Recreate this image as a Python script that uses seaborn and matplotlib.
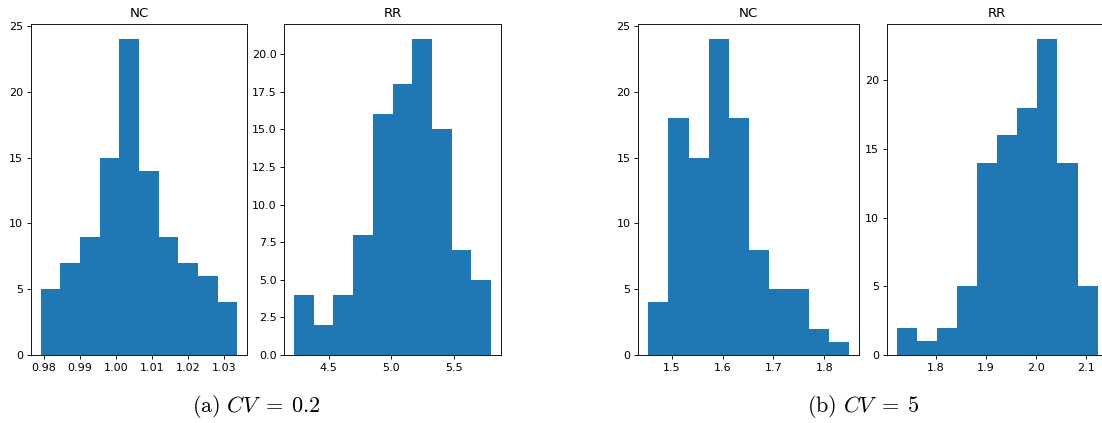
import numpy as np
import matplotlib
matplotlib.use("Agg")
import matplotlib.pyplot as plt
import seaborn as sns

# ---- data (histogram counts) ----
nc_a_counts = [5, 7, 9, 15, 24, 14, 9, 7, 6, 4]
nc_a_range = (0.9792, 1.0336)
rr_a_counts = [4, 2, 4, 8, 16, 18, 21, 15, 7, 5]
rr_a_range = (4.226, 5.792)
nc_b_counts = [4, 18, 15, 24, 18, 8, 5, 5, 2, 1]
nc_b_range = (1.4542, 1.849)
rr_b_counts = [2, 1, 2, 5, 14, 16, 18, 23, 14, 5]
rr_b_range = (1.7214, 2.1234)
titles = ["NC", "RR", "NC", "RR"]
captions = [r"$\mathrm{(a)}\ CV\;=\;0.2$", r"$\mathrm{(b)}\ CV\;=\;5$"]

plt.rcParams["mathtext.fontset"] = "cm"

W, H, DPI = 1102, 423, 80
fig = plt.figure(figsize=(W / DPI, H / DPI), dpi=DPI)

# axes boxes in pixels: left, right
boxes = [(31, 247), (284.3, 500.7), (638.3, 859.3), (886.7, 1107.7)]
top_px, bot_px = 23.5, 355

panels = [(nc_a_counts, nc_a_range), (rr_a_counts, rr_a_range),
          (nc_b_counts, nc_b_range), (rr_b_counts, rr_b_range)]

for (l, r), (counts, rng), title in zip(boxes, panels, titles):
    ax = fig.add_axes([l / W, (H - bot_px) / H, (r - l) / W, (bot_px - top_px) / H])
    n = len(counts)
    width = (rng[1] - rng[0]) / n
    centers = [rng[0] + (i + 0.5) * width for i in range(n)]
    sns.histplot(x=centers, weights=counts, bins=n, binrange=rng, ax=ax,
                 color="#1f77b4", alpha=1.0, edgecolor="none", linewidth=0)
    ax.set_ylabel("")
    ax.set_xlabel("")
    ax.set_title(title)

fig.text(256.5 / W, (H - 406) / H, captions[0], ha="center", va="center", fontsize=20)
fig.text(863 / W, (H - 406) / H, captions[1], ha="center", va="center", fontsize=20)

fig.savefig("out.png", dpi=DPI)
